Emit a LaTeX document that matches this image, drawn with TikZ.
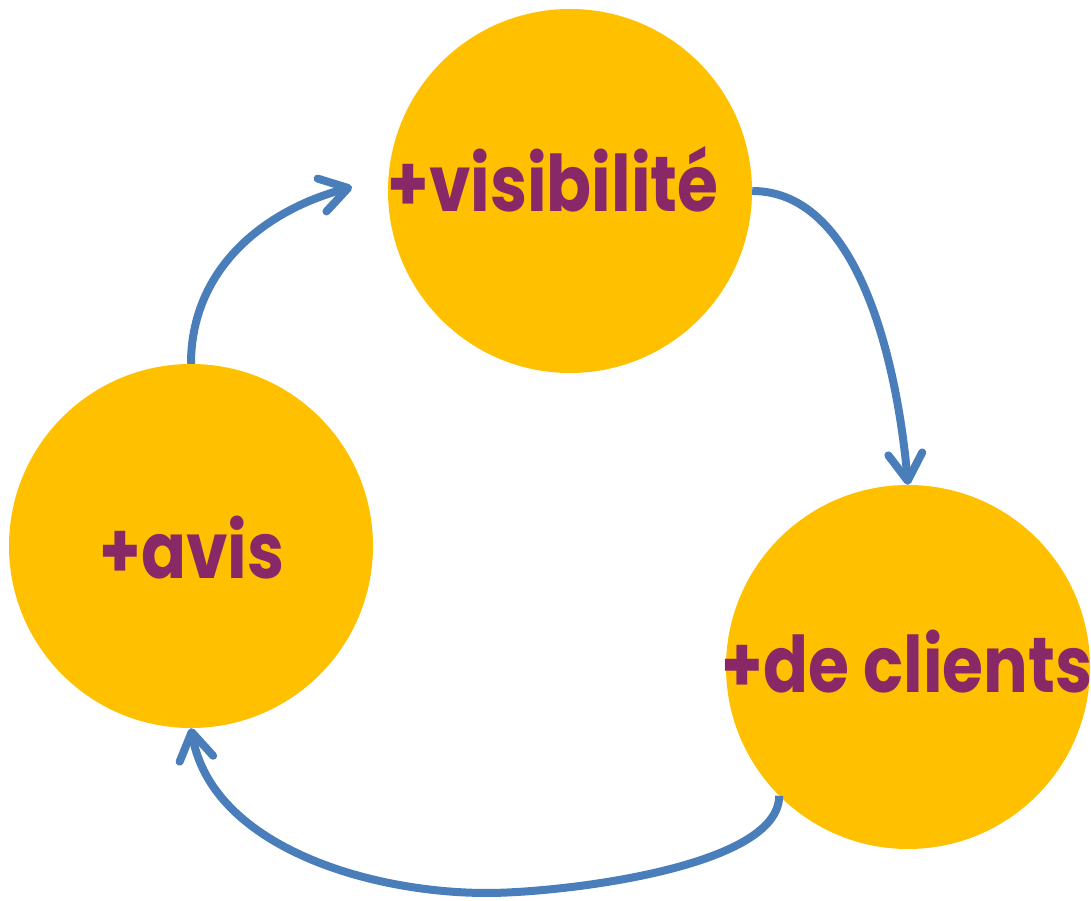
\documentclass[tikz,border=0pt]{standalone}
\usepackage{fontspec}
\usepackage{graphicx}
\newfontfamily\bubblefont{Poppins}
\usetikzlibrary{arrows.meta}
\definecolor{bubbleyellow}{RGB}{255,192,0}
\definecolor{wordpurple}{RGB}{136,40,102}
\definecolor{cycleblue}{RGB}{74,126,187}
\newcommand{\bubbleword}[1]{\scalebox{0.85}[1]{#1}}
\tikzset{
  bubble/.style={circle, fill=bubbleyellow, minimum size=364pt, inner sep=0pt},
  word/.style={text=wordpurple, font=\bubblefont\bfseries\fontsize{78}{78}\selectfont, anchor=base, inner sep=0pt},
  cyclearrow/.style={cycleblue, line width=8pt, -{Straight Barb[length=27pt,width=34pt,round]}}
}
\begin{document}
\begin{tikzpicture}[x=1pt, y=1pt]
    \useasboundingbox (0,0) rectangle (1091,901);
    % Three bubbles of the loop
    \node[bubble] (vis) at (570,710) {};
    \node[bubble] (avis) at (191,355) {};
    \node[bubble] (clients) at (908,234) {};

    \node[word] (vislabel) at (553,689) {\bubbleword{+visibilité}};
    \node[word] (avislabel) at (192,322) {\bubbleword{+avis}};
    \node[word] (clientslabel) at (907,208) {\bubbleword{+de clients}};

    % Arrows round the loop
    \coordinate (visin) at (352,714);
    \draw[cyclearrow] (avis.north) to[out=90, in=195] (visin);
    \draw[cyclearrow] (vis.east) to[out=0, in=95, looseness=0.85] (clients.north);
    \draw[cyclearrow] (clients.225) to[out=-90, in=0, looseness=0.6] (487,8)
        to[out=180, in=-80, looseness=0.9] (avis.south);
\end{tikzpicture}
\end{document}
